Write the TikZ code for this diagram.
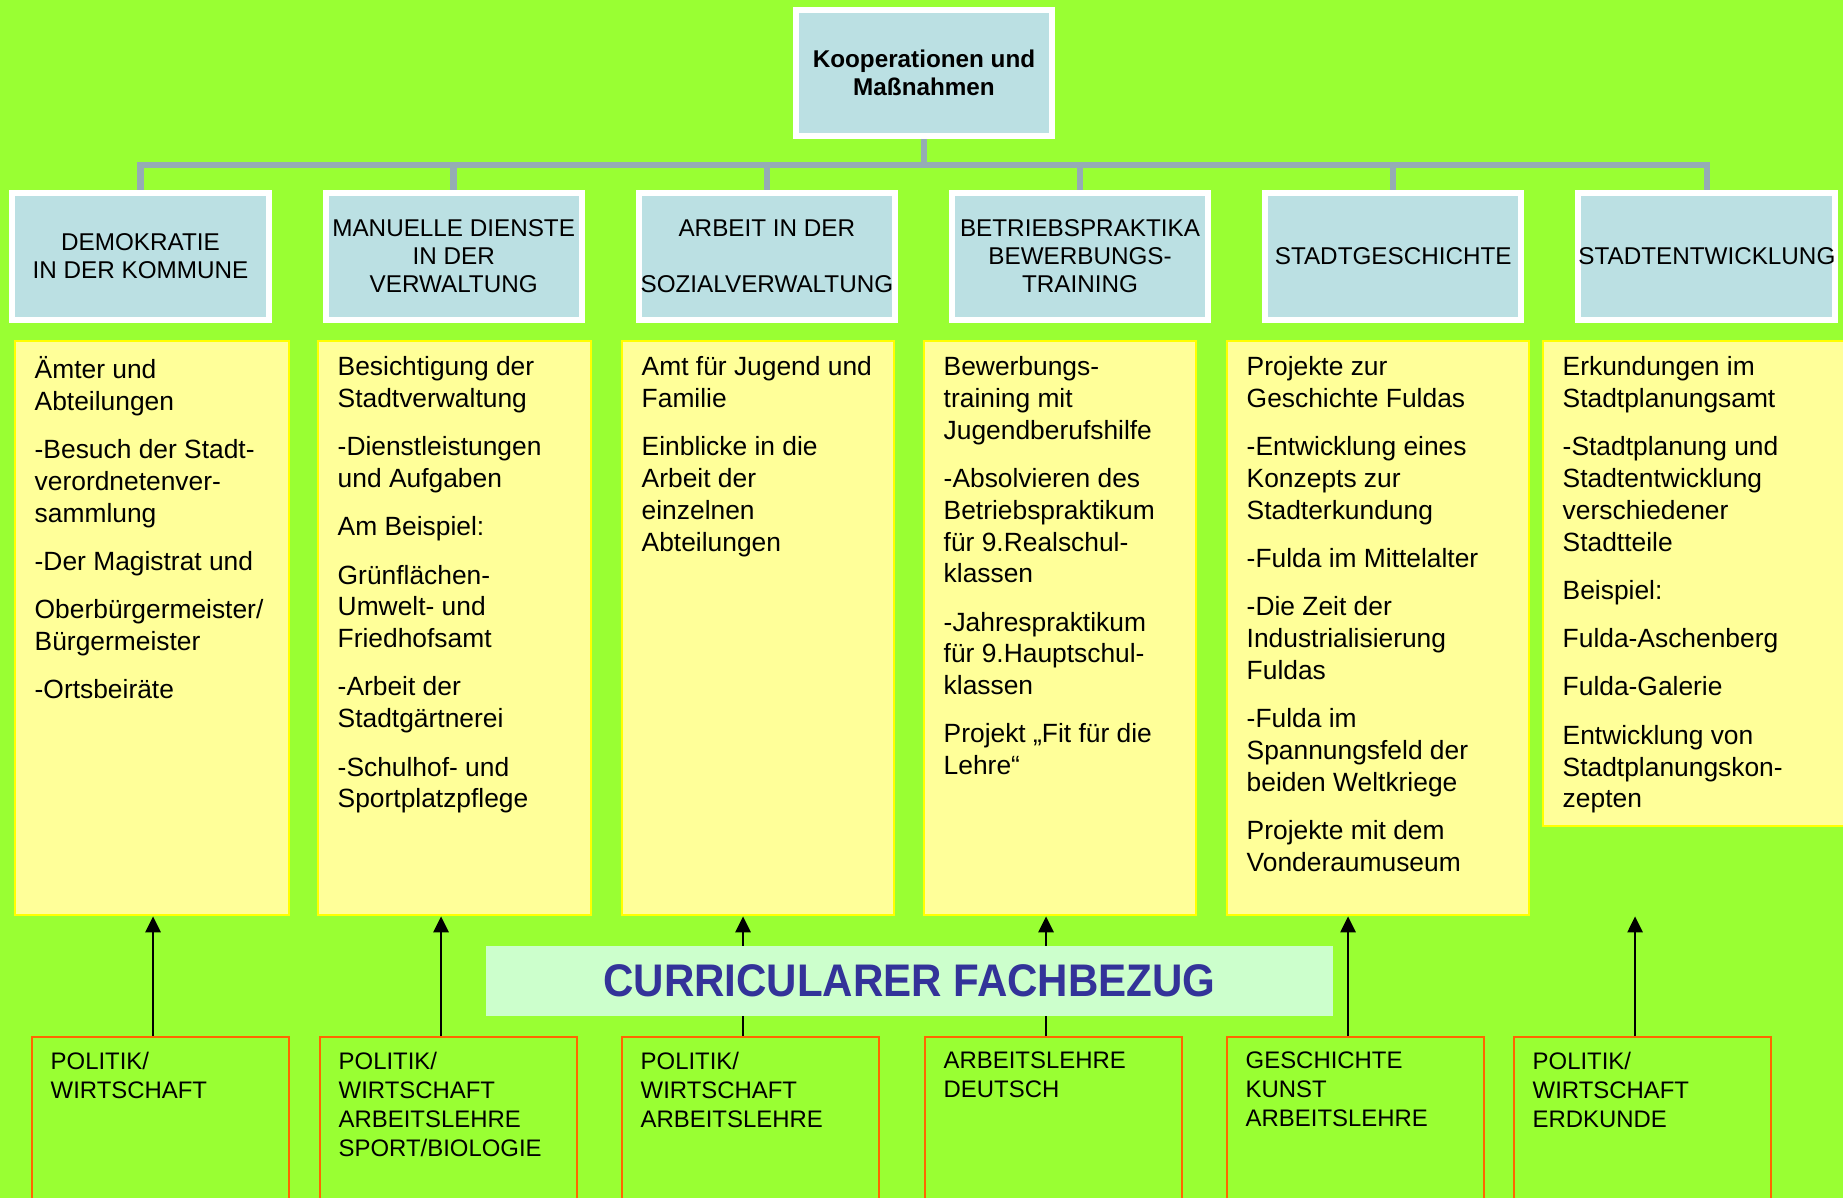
\documentclass[tikz,border=0pt]{standalone}
\usepackage{fontspec}
\setmainfont{Liberation Sans}
\newfontfamily\schmal[FakeStretch=0.92]{Liberation Sans}
\usetikzlibrary{positioning, arrows.meta}

\definecolor{wiese}{RGB}{153,255,51}
\definecolor{hellblau}{RGB}{187,224,227}
\definecolor{astgrau}{RGB}{149,172,180}
\definecolor{gelbfeld}{RGB}{255,255,153}
\definecolor{gelbrand}{RGB}{255,255,0}
\definecolor{mint}{RGB}{204,255,204}
\definecolor{tinte}{RGB}{51,51,153}
\definecolor{orangerot}{RGB}{255,102,0}

\begin{document}
\begin{tikzpicture}[
    x=0.01cm, y=-0.01cm,
    kopf/.style={draw=white, line width=0.06cm, fill=hellblau, minimum width=2.55cm, minimum height=1.26cm, align=center, inner sep=0pt, font=\fontsize{6.9}{8}\selectfont\bfseries},
    thema/.style={draw=white, line width=0.06cm, fill=hellblau, minimum width=2.56cm, minimum height=1.27cm, align=center, inner sep=0pt, font=\fontsize{6.9}{8}\selectfont},
    zettel/.style={draw=gelbrand, line width=0.02cm, fill=gelbfeld, anchor=north west, minimum height=5.74cm},
    zetteltext/.style={anchor=north west, align=left, inner sep=0pt, font=\fontsize{7.5}{9.03}\selectfont},
    fach/.style={draw=orangerot, line width=0.02cm, anchor=north west, minimum width=2.57cm, minimum height=2cm},
    fachtext/.style={anchor=north west, align=left, inner sep=0pt, font=\fontsize{6.8}{8.25}\selectfont},
    ast/.style={draw=astgrau, line width=0.065cm},
    pfeil/.style={-{Triangle[length=0.16cm, width=0.15cm]}, line width=0.027cm}
]

    % Background
    \useasboundingbox (0,0) rectangle (1843,1198);
    \fill[wiese] (0,0) rectangle (1843,1198);
    \clip (0,0) rectangle (1843,1198);

    % Top and topics
    \node[kopf] (kop) at (924,73) {Kooperationen und\\Maßnahmen};

    \node[thema] (d1) at (140.5,256.5) {DEMOKRATIE\\IN DER KOMMUNE};
    \node[thema, right=0.51cm of d1] (d2) {MANUELLE DIENSTE\\IN DER\\VERWALTUNG};
    \node[thema, right=0.51cm of d2] (d3) {ARBEIT IN DER\\[8pt]SOZIALVERWALTUNG};
    \node[thema, right=0.51cm of d3] (d4) {BETRIEBSPRAKTIKA\\BEWERBUNGS-\\TRAINING};
    \node[thema, right=0.51cm of d4] (d5) {STADTGESCHICHTE};
    \node[thema, right=0.51cm of d5] (d6) {STADTENTWICKLUNG};

    \draw[ast] (kop.south) -- ++(0,26) -| (d1.north);
    \draw[ast] (kop.south) -- ++(0,26) -| (d2.north);
    \draw[ast] (kop.south) -- ++(0,26) -| (d3.north);
    \draw[ast] (kop.south) -- ++(0,26) -| (d4.north);
    \draw[ast] (kop.south) -- ++(0,26) -| (d5.north);
    \draw[ast] (kop.south) -- ++(0,26) -| (d6.north);

    % Contents
    \node[zettel, minimum width=2.74cm] (z1) at (14,340) {};
    \node[zettel, minimum width=2.73cm] (z2) at (317,340) {};
    \node[zettel, minimum width=2.72cm] (z3) at (621,340) {};
    \node[zettel, minimum width=2.72cm] (z4) at (923,340) {};
    \node[zettel, minimum width=3.02cm] (z5) at (1226,340) {};
    \node[zettel, minimum width=3.10cm, minimum height=4.85cm] (z6) at (1542,340) {};

    \node[zetteltext] (t1) at ([xshift=0.2cm, yshift=-0.16cm]z1.north west)
        {Ämter und\\Abteilungen\\[4.7pt]-Besuch der Stadt-\\verordnetenver-\\sammlung\\[4.7pt]-Der Magistrat und\\[4.7pt]Oberbürgermeister/\\Bürgermeister\\[4.7pt]-Ortsbeiräte};
    \node[zetteltext] (t2) at ([xshift=0.2cm, yshift=-0.16cm]z2.north west)
        {Besichtigung der\\Stadtverwaltung\\[4.7pt]-Dienstleistungen\\und Aufgaben\\[4.7pt]Am Beispiel:\\[4.7pt]Grünflächen-\\Umwelt- und\\Friedhofsamt\\[4.7pt]-Arbeit der\\Stadtgärtnerei\\[4.7pt]-Schulhof- und\\Sportplatzpflege};
    \node[zetteltext] (t3) at ([xshift=0.2cm, yshift=-0.16cm]z3.north west)
        {Amt für Jugend und\\Familie\\[4.7pt]Einblicke in die\\Arbeit der\\einzelnen\\Abteilungen};
    \node[zetteltext] (t4) at ([xshift=0.2cm, yshift=-0.16cm]z4.north west)
        {Bewerbungs-\\training mit\\Jugendberufshilfe\\[4.7pt]-Absolvieren des\\Betriebspraktikum\\für 9.Realschul-\\klassen\\[4.7pt]-Jahrespraktikum\\für 9.Hauptschul-\\klassen\\[4.7pt]Projekt „Fit für die\\Lehre“};
    \node[zetteltext] (t5) at ([xshift=0.2cm, yshift=-0.16cm]z5.north west)
        {Projekte zur\\Geschichte Fuldas\\[4.7pt]-Entwicklung eines\\Konzepts zur\\Stadterkundung\\[4.7pt]-Fulda im Mittelalter\\[4.7pt]-Die Zeit der\\Industrialisierung\\Fuldas\\[4.7pt]-Fulda im\\Spannungsfeld der\\beiden Weltkriege\\[4.7pt]Projekte mit dem\\Vonderaumuseum};
    \node[zetteltext] (t6) at ([xshift=0.2cm, yshift=-0.16cm]z6.north west)
        {Erkundungen im\\Stadtplanungsamt\\[4.7pt]-Stadtplanung und\\Stadtentwicklung\\verschiedener\\Stadtteile\\[4.7pt]Beispiel:\\[4.7pt]Fulda-Aschenberg\\[4.7pt]Fulda-Galerie\\[4.7pt]Entwicklung von\\Stadtplanungskon-\\zepten};

    % Subjects
    \node[fach] (f1) at (31,1036) {};
    \node[fach] (f2) at (319,1036) {};
    \node[fach] (f3) at (621,1036) {};
    \node[fach] (f4) at (924,1036) {};
    \node[fach] (f5) at (1226,1036) {};
    \node[fach] (f6) at (1513,1036) {};

    \node[fachtext] at ([xshift=0.19cm, yshift=-0.15cm]f1.north west) {POLITIK/\\WIRTSCHAFT};
    \node[fachtext] at ([xshift=0.19cm, yshift=-0.15cm]f2.north west) {POLITIK/\\WIRTSCHAFT\\ARBEITSLEHRE\\SPORT/BIOLOGIE};
    \node[fachtext] at ([xshift=0.19cm, yshift=-0.15cm]f3.north west) {POLITIK/\\WIRTSCHAFT\\ARBEITSLEHRE};
    \node[fachtext] at ([xshift=0.19cm, yshift=-0.15cm]f4.north west) {ARBEITSLEHRE\\DEUTSCH};
    \node[fachtext] at ([xshift=0.19cm, yshift=-0.15cm]f5.north west) {GESCHICHTE\\KUNST\\ARBEITSLEHRE};
    \node[fachtext] at ([xshift=0.19cm, yshift=-0.15cm]f6.north west) {POLITIK/\\WIRTSCHAFT\\ERDKUNDE};

    % Arrows up
    \coordinate (p1) at ([xshift=-0.075cm]f1.north);
    \coordinate (p2) at ([xshift=-0.075cm]f2.north);
    \coordinate (p3) at ([xshift=-0.075cm]f3.north);
    \coordinate (p4) at ([xshift=-0.075cm]f4.north);
    \coordinate (p5) at ([xshift=-0.075cm]f5.north);
    \coordinate (p6) at ([xshift=-0.075cm]f6.north);
    \draw[pfeil] (p1) -- (p1 |- z1.south);
    \draw[pfeil] (p2) -- (p2 |- z2.south);
    \draw[pfeil] (p3) -- (p3 |- z3.south);
    \draw[pfeil] (p4) -- (p4 |- z4.south);
    \draw[pfeil] (p5) -- (p5 |- z5.south);
    \draw[pfeil] (p6) -- (p6 |- z5.south);

    \node[fill=mint, anchor=north west, minimum width=8.47cm, minimum height=0.70cm, text=tinte,
          font=\schmal\fontsize{13}{15}\selectfont\bfseries] (bezug) at (485,945) {CURRICULARER FACHBEZUG};

\end{tikzpicture}
\end{document}
